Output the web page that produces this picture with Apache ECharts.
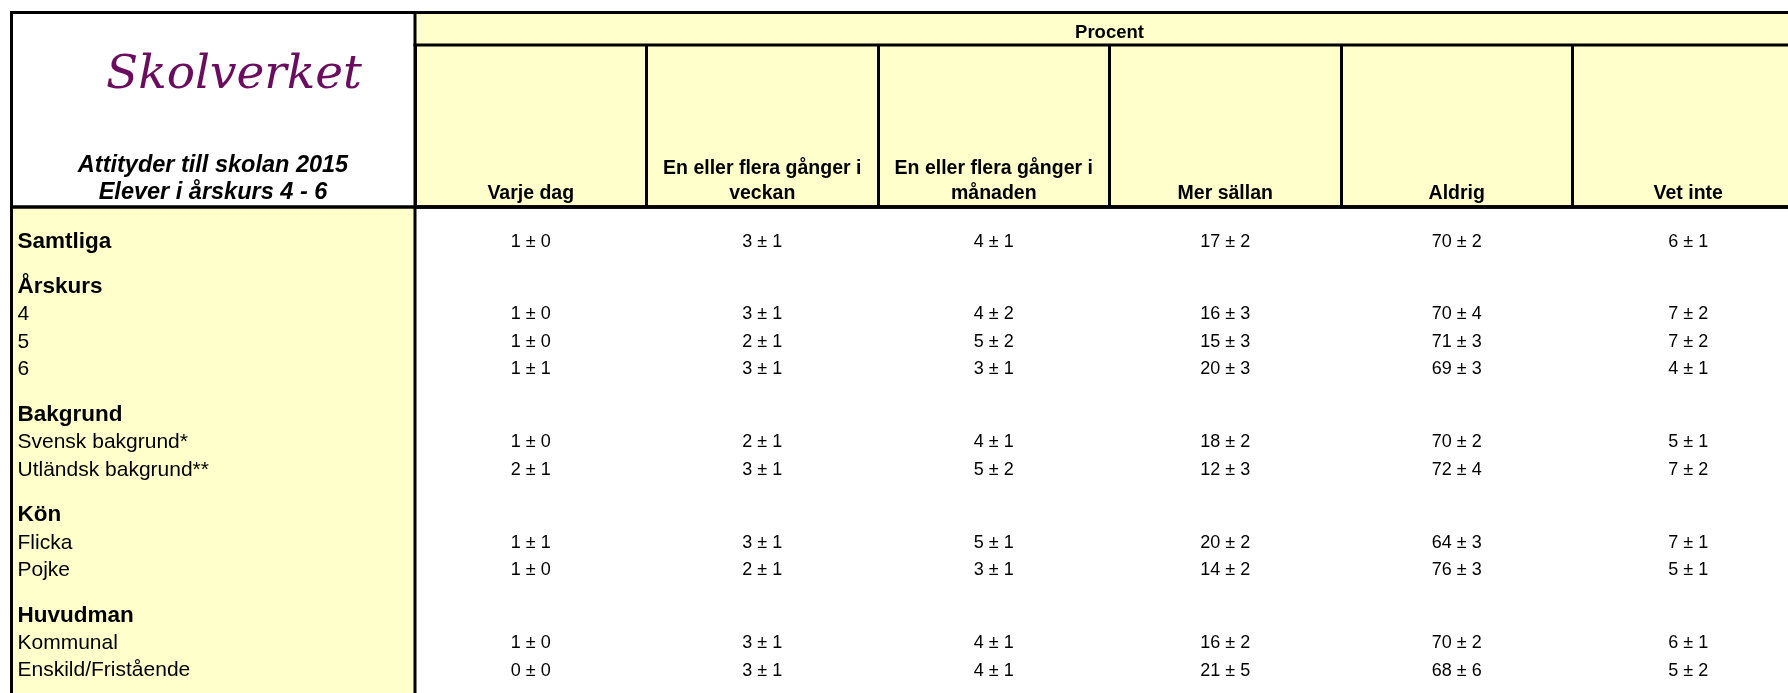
<!DOCTYPE html>
<html>
<head>
<meta charset="utf-8">
<script src="https://cdn.jsdelivr.net/npm/echarts@6/dist/echarts.min.js"></script>
<style>
  html, body { margin: 0; padding: 0; background: #fff; }
  #chart { width: 1788px; height: 693px; }
</style>
</head>
<body>
<div id="chart"></div>
<script>
// ---- Data ----
const columns = ['Varje dag', 'En eller flera gånger i\nveckan', 'En eller flera gånger i\nmånaden', 'Mer sällan', 'Aldrig', 'Vet inte'];
const rowLabels = ['Samtliga', 'Årskurs', '4', '5', '6', 'Bakgrund', 'Svensk bakgrund*', 'Utländsk bakgrund**', 'Kön', 'Flicka', 'Pojke', 'Huvudman', 'Kommunal', 'Enskild/Fristående'];
const rowIsHeading = [true, true, false, false, false, true, false, false, true, false, false, true, false, false];
// [percent, margin of error]; null = no values on that row
const varjeDag  = [[1,0], null, [1,0], [1,0], [1,1], null, [1,0], [2,1], null, [1,1], [1,0], null, [1,0], [0,0]];
const veckan    = [[3,1], null, [3,1], [2,1], [3,1], null, [2,1], [3,1], null, [3,1], [2,1], null, [3,1], [3,1]];
const manaden   = [[4,1], null, [4,2], [5,2], [3,1], null, [4,1], [5,2], null, [5,1], [3,1], null, [4,1], [4,1]];
const merSallan = [[17,2], null, [16,3], [15,3], [20,3], null, [18,2], [12,3], null, [20,2], [14,2], null, [16,2], [21,5]];
const aldrig    = [[70,2], null, [70,4], [71,3], [69,3], null, [70,2], [72,4], null, [64,3], [76,3], null, [70,2], [68,6]];
const vetInte   = [[6,1], null, [7,2], [7,2], [4,1], null, [5,1], [7,2], null, [7,1], [5,1], null, [6,1], [5,2]];
const title1 = 'Attityder till skolan 2015';
const title2 = 'Elever i årskurs 4 - 6';
const logoText = 'Skolverket';
const groupTitle = 'Procent';

// ---- Layout / style constants ----
const W = 1788, H = 693;
const GRID_LEFT = 415, GRID_TOP = 207, GRID_RIGHT = -16;
const ROW_PX = 27.5;           // pixel height of one row unit
const FIRST_ROW = 1.26;        // offset of first row (in row units)
const HEADING_EXTRA = 0.65;    // extra space before heading rows
const FONT = '"Liberation Sans", Arial, sans-serif';
const YELLOW = '#FFFFCC';

// row positions (row units) derived from row kinds
const rowPos = [];
let p = FIRST_ROW;
rowLabels.forEach((_, i) => {
  if (i > 0) p += 1 + (rowIsHeading[i] ? HEADING_EXTRA : 0);
  rowPos.push(p);
});
const yMax = (H - GRID_TOP) / ROW_PX;

const valueCols = [varjeDag, veckan, manaden, merSallan, aldrig, vetInte];
const valueItems = [];
const valueTexts = [];
valueCols.forEach((col, c) => {
  col.forEach((v, r) => {
    if (v) {
      valueItems.push([c, rowPos[r]]);
      valueTexts.push(v[0] + ' \u00b1 ' + v[1]);
    }
  });
});
const labelItems = rowLabels.map((l, i) => [0, rowPos[i]]);

const chart = echarts.init(document.getElementById('chart'), null, { renderer: 'canvas', width: W, height: H });

function bar(x, y, w, h) {
  return { type: 'rect', z: 20, shape: { x, y, width: w, height: h }, style: { fill: '#000' }, silent: true };
}

const option = {
  backgroundColor: '#ffffff',
  animation: false,
  grid: { left: GRID_LEFT, right: GRID_RIGHT, top: GRID_TOP, bottom: 0, containLabel: false, outerBoundsMode: 'none' },
  xAxis: {
    type: 'category',
    position: 'top',
    data: columns,
    boundaryGap: true,
    z: 5,
    axisLine: { show: true, lineStyle: { color: '#000', width: 3.5 } },
    axisTick: { show: true, interval: 0, length: 162, lineStyle: { color: '#000', width: 3 } },
    axisLabel: {
      interval: 0, margin: 0.5, color: '#000', fontFamily: FONT, fontWeight: 'bold',
      fontSize: 19.5, lineHeight: 25, align: 'center'
    },
    splitLine: { show: false }
  },
  yAxis: { type: 'value', inverse: true, min: 0, max: yMax, show: false },
  graphic: [
    // backgrounds
    { type: 'rect', z: 1, shape: { x: GRID_LEFT, y: 11, width: W - GRID_LEFT + 20, height: GRID_TOP - 11 }, style: { fill: YELLOW }, silent: true },
    { type: 'rect', z: 1, shape: { x: 11, y: GRID_TOP, width: GRID_LEFT - 11, height: H - GRID_TOP }, style: { fill: YELLOW }, silent: true },
    // borders
    bar(10, 11, W, 3),
    bar(10, 11, 3, H),
    bar(GRID_LEFT - 1.5, 11, 3, H),
    bar(GRID_LEFT - 1.5, 43.5, W, 3),
    bar(10, GRID_TOP - 1.75, W, 3.5),
    // logo and titles
    { type: 'text', z: 21, x: 234, y: 76, style: { text: logoText, font: 'italic 47px "DejaVu Serif", serif', fill: '#6B0D5E', align: 'center', verticalAlign: 'middle' } },
    { type: 'text', z: 21, x: 213, y: 165.5, style: { text: title1, font: 'italic bold 23.5px ' + FONT, fill: '#000', align: 'center', verticalAlign: 'middle' } },
    { type: 'text', z: 21, x: 213, y: 193, style: { text: title2, font: 'italic bold 23.5px ' + FONT, fill: '#000', align: 'center', verticalAlign: 'middle' } },
    { type: 'text', z: 21, x: GRID_LEFT + (W - GRID_LEFT - GRID_RIGHT) / 2, y: 33, style: { text: groupTitle, font: 'bold 18.5px ' + FONT, fill: '#000', align: 'center', verticalAlign: 'middle' } }
  ],
  series: [
    {
      type: 'custom',
      name: 'values',
      z: 6,
      clip: false,
      encode: { x: 0, y: 1 },
      data: valueItems,
      renderItem: function (params, api) {
        const pt = api.coord([api.value(0), api.value(1)]);
        return {
          type: 'text', x: pt[0], y: pt[1],
          style: { text: valueTexts[params.dataIndex], font: '18px ' + FONT, fill: '#000', align: 'center', verticalAlign: 'middle' }
        };
      }
    },
    {
      type: 'custom',
      name: 'rows',
      z: 6,
      clip: false,
      encode: { x: 0, y: 1 },
      data: labelItems,
      renderItem: function (params, api) {
        const pt = api.coord([api.value(0), api.value(1)]);
        const i = params.dataIndex;
        const bold = rowIsHeading[i];
        return {
          type: 'text', x: params.coordSys.x - (GRID_LEFT - 17.5), y: pt[1],
          style: {
            text: rowLabels[i],
            font: (bold ? 'bold 22.5px ' : '21px ') + FONT,
            fill: '#000', align: 'left', verticalAlign: 'middle'
          }
        };
      }
    }
  ]
};
chart.setOption(option);
</script>
</body>
</html>
